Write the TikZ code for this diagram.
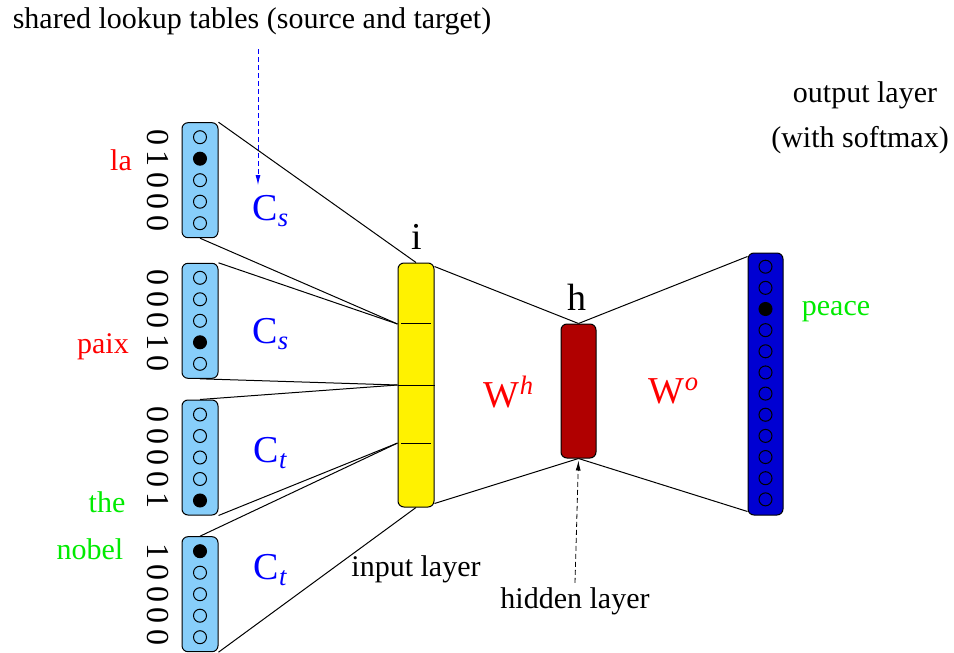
\documentclass[tikz,border=0pt]{standalone}
\usepackage{fontspec}
\setmainfont{Liberation Serif}
\usepackage{xcolor}
\usepackage{tikz}
\usetikzlibrary{arrows.meta, calc}
\definecolor{lookupblue}{RGB}{135, 206, 250}
\definecolor{hiddenred}{RGB}{176, 0, 0}
\definecolor{outblue}{RGB}{0, 0, 210}
\definecolor{wordgreen}{RGB}{0, 235, 0}
\pgfdeclarelayer{back}
\pgfsetlayers{back,main}

\tikzset{
    lookup/.style={draw, fill=lookupblue, rounded corners=3pt, minimum width=18pt, minimum height=57.5pt, inner sep=0pt},
    layerbox/.style={draw, rounded corners=3pt, inner sep=0pt},
    txt/.style={font=\fontsize{15}{18}\selectfont, inner sep=2pt},
    big/.style={font=\fontsize{19}{23}\selectfont, inner sep=2pt},
    digit/.style={font=\fontsize{16}{19}\selectfont, inner sep=1pt, rotate=-90},
    link/.style={black, line width=0.5pt},
}

\begin{document}
\begin{tikzpicture}[x=0.5pt, y=-0.5pt, line width=0.5pt]
    \useasboundingbox (0,0) rectangle (954,653);

    % LEFT: one-hot context words and lookup tables
    \foreach \k/\cy/\hot in {1/180.2/2, 2/320.8/4, 3/457.5/5, 4/594.2/1} {
        \node[lookup] (v\k) at (200,\cy) {};
        \foreach \j in {1,...,5} {
            \pgfmathtruncatemacro{\bit}{\j==\hot}
            \pgfmathsetmacro{\yy}{\cy+21.5*(\j-3)}
            \ifnum\bit=1 \fill[black] (200,\yy) circle (3.25pt); \fi
            \draw (200,\yy) circle (3.25pt);
            \node[digit] (b\k\j) at (158,\yy) {\bit};
        }
    }
    \node[txt, red] (la) at (121,160) {la};
    \node[txt, red] (paix) at (103,347) {paix};
    \node[txt, wordgreen] (the) at (107,502) {the};
    \node[txt, wordgreen] (nobel) at (90,549) {nobel};

    \node[big, blue] (cs1) at (271,211) {C\textsubscript{\textit{s}}};
    \node[big, blue] (cs2) at (271,334) {C\textsubscript{\textit{s}}};
    \node[big, blue] (ct1) at (271,453) {C\textsubscript{\textit{t}}};
    \node[big, blue] (ct2) at (271,570) {C\textsubscript{\textit{t}}};

    % MIDDLE: input and hidden layer
    \node[layerbox, fill=yellow, minimum width=18pt, minimum height=122pt] (inp) at (416,385) {};
    \foreach \n/\f in {1/0.251, 2/0.5, 3/0.737} {
        \coordinate (d\n) at ($(inp.north west)!\f!(inp.south west)$);
        \coordinate (e\n) at ($(inp.north east)!\f!(inp.south east)$);
    }
    \draw ($(d1)!0.1!(e1)$) -- ($(d1)!0.9!(e1)$);
    \draw (d2) -- (e2);
    \draw ($(d3)!0.1!(e3)$) -- ($(d3)!0.9!(e3)$);
    \node[big] (ilab) at (417,237) {i};

    \node[layerbox, fill=hiddenred, minimum width=17.5pt, minimum height=67pt] (hid) at (578.5,391) {};
    \node[big] (hlab) at (577,297) {h};

    \node[big, red] (wh) at (509,392) {W\textsuperscript{\textit{h}}};
    \node[big, red] (wo) at (674,391) {W\textsuperscript{\textit{o}}};

    % RIGHT: output layer
    \node[layerbox, fill=outblue, minimum width=17.5pt, minimum height=131pt] (out) at (765.5,384) {};
    \foreach \j in {1,...,12} {
        \pgfmathsetmacro{\yy}{266.7+21.15*(\j-1)}
        \ifnum\j=3 \fill[black] (765.5,\yy) circle (3.25pt); \fi
        \draw (765.5,\yy) circle (3.25pt);
    }
    \node[txt, wordgreen] (peace) at (836,312) {peace};

    % Connections (behind the boxes)
    \begin{pgfonlayer}{back}
        \draw[link] (v1.north east) -- (inp.north);
        \draw[link] (v1.south) -- (d1);
        \draw[link] (v2.north east) -- (d1);
        \draw[link] (v2.south) -- (d2);
        \draw[link] (v3.north) -- (d2);
        \draw[link] (v3.south east) -- (d3);
        \draw[link] (v4.north) -- (d3);
        \draw[link] (v4.south east) -- (inp.south);
        \draw[link] ([yshift=-2pt]inp.north east) -- (hid.north);
        \draw[link] ([yshift=2pt]inp.south east) -- (hid.south);
        \draw[link] (hid.north) -- ([yshift=-2pt]out.north west);
        \draw[link] (hid.south) -- ([yshift=2pt]out.south west);
    \end{pgfonlayer}

    % Annotations
    \node[txt] (shared) at (252,21) {shared lookup tables (source and target)};
    \coordinate (tbl) at (258,185);
    \draw[blue, dash pattern=on 2.5pt off 1.5pt, -{Latex[length=5pt, width=2.5pt]}, shorten <=5pt]
        (shared.south -| tbl) -- (tbl);

    \node[txt] (inlab) at (416,569) {input layer};
    \node[txt] (hidlab) at (575,601) {hidden layer};
    \draw[dash pattern=on 2.5pt off 1.5pt, -{Latex[length=5pt, width=2.5pt]}, shorten >=1pt]
        (hidlab.north) -- (hid.south);

    \node[txt] (outlab1) at (865,95) {output layer};
    \node[txt] (outlab2) at (860,140) {(with softmax)};
\end{tikzpicture}
\end{document}
